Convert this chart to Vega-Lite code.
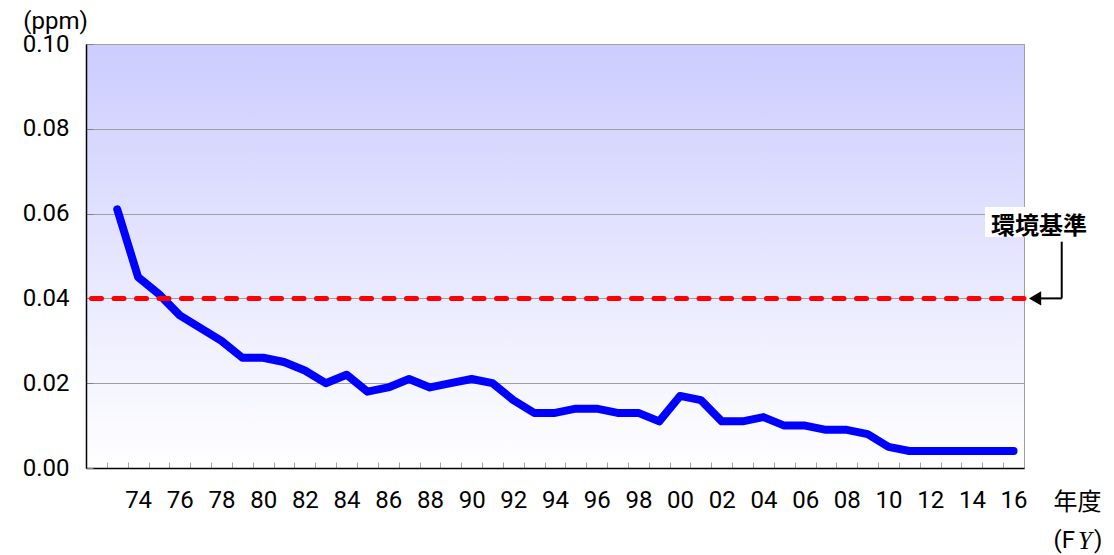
{
  "$schema": "https://vega.github.io/schema/vega-lite/v6.json",
  "width": 938,
  "height": 424,
  "autosize": {"type": "none"},
  "padding": {"left": 86, "top": 44, "right": 90, "bottom": 87},
  "background": "white",
  "config": {
    "view": {
      "fill": {"gradient": "linear", "x1": 0, "y1": 0, "x2": 0, "y2": 1,
        "stops": [{"offset": 0, "color": "#CCCCFF"}, {"offset": 1, "color": "#FFFFFF"}]},
      "stroke": "#A0A0A0",
      "strokeWidth": 1
    },
    "axis": {"labelColor": "#000000", "titleColor": "#000000", "domainColor": "#000000", "domainWidth": 1.5}
  },
  "datasets": {
    "so2": [
      {"year": 1973, "value": 0.061}, {"year": 1974, "value": 0.045}, {"year": 1975, "value": 0.041},
      {"year": 1976, "value": 0.036}, {"year": 1977, "value": 0.033}, {"year": 1978, "value": 0.030},
      {"year": 1979, "value": 0.026}, {"year": 1980, "value": 0.026}, {"year": 1981, "value": 0.025},
      {"year": 1982, "value": 0.023}, {"year": 1983, "value": 0.020}, {"year": 1984, "value": 0.022},
      {"year": 1985, "value": 0.018}, {"year": 1986, "value": 0.019}, {"year": 1987, "value": 0.021},
      {"year": 1988, "value": 0.019}, {"year": 1989, "value": 0.020}, {"year": 1990, "value": 0.021},
      {"year": 1991, "value": 0.020}, {"year": 1992, "value": 0.016}, {"year": 1993, "value": 0.013},
      {"year": 1994, "value": 0.013}, {"year": 1995, "value": 0.014}, {"year": 1996, "value": 0.014},
      {"year": 1997, "value": 0.013}, {"year": 1998, "value": 0.013}, {"year": 1999, "value": 0.011},
      {"year": 2000, "value": 0.017}, {"year": 2001, "value": 0.016}, {"year": 2002, "value": 0.011},
      {"year": 2003, "value": 0.011}, {"year": 2004, "value": 0.012}, {"year": 2005, "value": 0.010},
      {"year": 2006, "value": 0.010}, {"year": 2007, "value": 0.009}, {"year": 2008, "value": 0.009},
      {"year": 2009, "value": 0.008}, {"year": 2010, "value": 0.005}, {"year": 2011, "value": 0.004},
      {"year": 2012, "value": 0.004}, {"year": 2013, "value": 0.004}, {"year": 2014, "value": 0.004},
      {"year": 2015, "value": 0.004}, {"year": 2016, "value": 0.004}
    ],
    "one": [{}]
  },
  "resolve": {"axis": {"x": "independent"}},
  "layer": [
    {
      "data": {"name": "so2"},
      "mark": {"type": "point", "opacity": 0},
      "encoding": {
        "x": {"field": "year", "type": "quantitative",
          "scale": {"domain": [1971.5, 2016.5], "nice": false, "zero": false},
          "axis": {
            "orient": "bottom",
            "values": [1972.5,1973.5,1974.5,1975.5,1976.5,1977.5,1978.5,1979.5,1980.5,1981.5,1982.5,1983.5,1984.5,1985.5,1986.5,1987.5,1988.5,1989.5,1990.5,1991.5,1992.5,1993.5,1994.5,1995.5,1996.5,1997.5,1998.5,1999.5,2000.5,2001.5,2002.5,2003.5,2004.5,2005.5,2006.5,2007.5,2008.5,2009.5,2010.5,2011.5,2012.5,2013.5,2014.5,2015.5],
            "labels": false,
            "tickSize": -6,
            "tickColor": "#A0A0A0",
            "grid": false,
            "domain": false,
            "title": null
          }
        },
        "y": {"field": "value", "type": "quantitative",
          "scale": {"domain": [0, 0.1], "nice": false},
          "axis": {
            "values": [0, 0.02, 0.04, 0.06, 0.08, 0.1],
            "format": ".2f",
            "tickSize": -7,
            "tickColor": "#808080",
            "gridColor": "#A0A0A0",
            "gridWidth": 1,
            "labelFont": "Roboto",
            "labelFontSize": 24,
            "labelPadding": 24,
            "title": "(ppm)",
            "titleFont": "Roboto",
            "titleFontSize": 24,
            "titleFontWeight": "normal",
            "titleAngle": 0,
            "titleAlign": "center",
            "titleBaseline": "middle",
            "titleX": -31,
            "titleY": -23
          }
        }
      }
    },
    {
      "data": {"name": "so2"},
      "mark": {"type": "line", "color": "#0000FF", "strokeWidth": 8, "strokeCap": "round", "strokeJoin": "round"},
      "encoding": {
        "x": {"field": "year", "type": "quantitative",
          "axis": {
            "orient": "bottom",
            "values": [1974,1976,1978,1980,1982,1984,1986,1988,1990,1992,1994,1996,1998,2000,2002,2004,2006,2008,2010,2012,2014,2016],
            "labelExpr": "slice(toString(datum.value), 2)",
            "ticks": false,
            "grid": false,
            "labelOverlap": false,
            "labelFlush": false,
            "labelFont": "Roboto",
            "labelFontSize": 24,
            "labelPadding": 20,
            "title": "年度",
            "titleFont": "Noto Sans CJK JP",
            "titleFontSize": 24,
            "titleFontWeight": "normal",
            "titleAngle": 0,
            "titleAlign": "center",
            "titleBaseline": "middle",
            "titleX": 991,
            "titleY": 34
          }
        },
        "y": {"field": "value", "type": "quantitative"}
      }
    },
    {
      "data": {"name": "one"},
      "mark": {"type": "rule", "color": "#FF0000", "strokeWidth": 5, "strokeDash": [10, 12.5], "strokeCap": "round"},
      "encoding": {"y": {"datum": 0.04, "type": "quantitative"}}
    },
    {
      "data": {"name": "one"},
      "mark": {"type": "rect", "fill": "#FFFFFF"},
      "encoding": {
        "x": {"datum": 2014.63, "type": "quantitative", "axis": null},
        "x2": {"datum": 2019.67},
        "y": {"datum": 0.06156, "type": "quantitative"},
        "y2": {"datum": 0.05448}
      }
    },
    {
      "data": {"name": "one"},
      "mark": {"type": "text", "text": "環境基準", "font": "Noto Sans CJK JP", "fontWeight": "bold", "fontSize": 24, "align": "center", "baseline": "middle", "color": "#000000"},
      "encoding": {
        "x": {"datum": 2017.22, "type": "quantitative", "axis": null},
        "y": {"datum": 0.05684, "type": "quantitative"}
      }
    },
    {
      "data": {"name": "one"},
      "mark": {"type": "rule", "color": "#000000", "strokeWidth": 2},
      "encoding": {
        "x": {"datum": 2018.31, "type": "quantitative", "axis": null},
        "y": {"datum": 0.05337, "type": "quantitative"},
        "y2": {"datum": 0.04}
      }
    },
    {
      "data": {"name": "one"},
      "mark": {"type": "rule", "color": "#000000", "strokeWidth": 2},
      "encoding": {
        "x": {"datum": 2017.2, "type": "quantitative", "axis": null},
        "x2": {"datum": 2018.31},
        "y": {"datum": 0.04, "type": "quantitative"}
      }
    },
    {
      "data": {"name": "one"},
      "mark": {"type": "point", "shape": "triangle-left", "filled": true, "color": "#000000", "size": 200, "opacity": 1},
      "encoding": {
        "x": {"datum": 2017.03, "type": "quantitative", "axis": null},
        "y": {"datum": 0.04, "type": "quantitative"}
      }
    },
    {
      "data": {"name": "one"},
      "mark": {"type": "text", "text": "(F", "font": "Roboto", "fontSize": 24, "align": "right", "baseline": "middle", "color": "#000000"},
      "encoding": {
        "x": {"datum": 2018.95, "type": "quantitative", "axis": null},
        "y": {"datum": -0.01722, "type": "quantitative"}
      }
    },
    {
      "data": {"name": "one"},
      "mark": {"type": "text", "text": "Y", "font": "Liberation Serif", "fontStyle": "italic", "fontSize": 25, "align": "center", "baseline": "middle", "color": "#000000"},
      "encoding": {
        "x": {"datum": 2019.43, "type": "quantitative", "axis": null},
        "y": {"datum": -0.01722, "type": "quantitative"}
      }
    },
    {
      "data": {"name": "one"},
      "mark": {"type": "text", "text": ")", "font": "Roboto", "fontSize": 24, "align": "left", "baseline": "middle", "color": "#000000"},
      "encoding": {
        "x": {"datum": 2019.86, "type": "quantitative", "axis": null},
        "y": {"datum": -0.01722, "type": "quantitative"}
      }
    }
  ]
}
